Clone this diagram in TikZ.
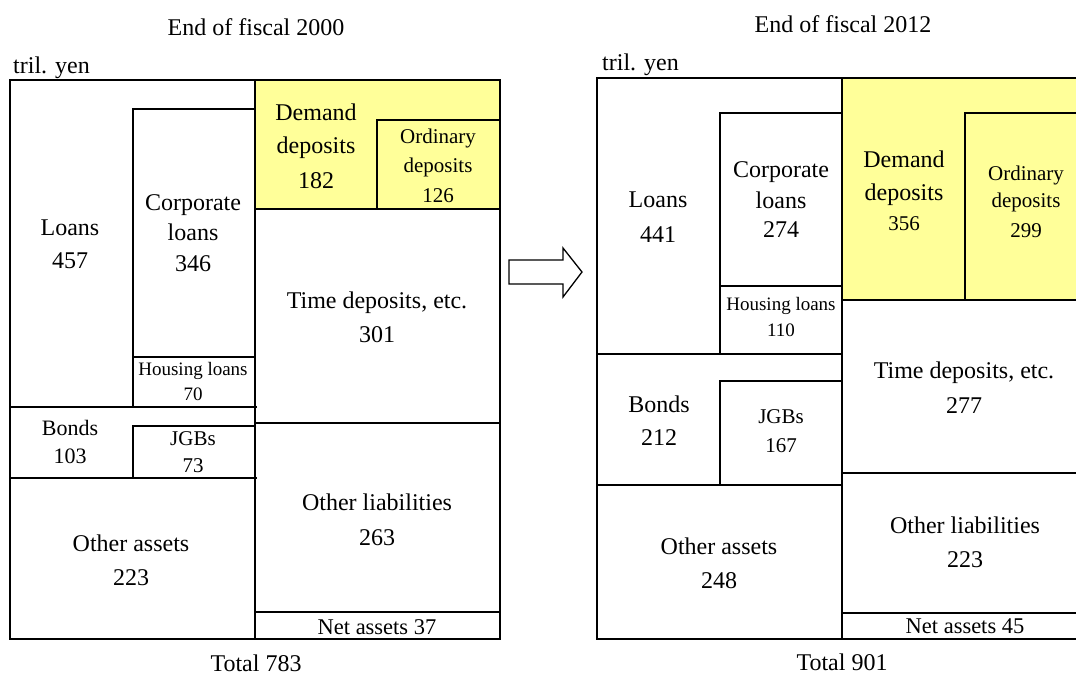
\documentclass[tikz,border=0pt]{standalone}
\usepackage{fontspec}
\setmainfont{Liberation Serif}
\definecolor{depyellow}{RGB}{255,255,153}
\begin{document}
\begin{tikzpicture}[x=1pt,y=-1pt,
  boxline/.style={line width=1.8pt, line cap=rect},
  ybox/.style={fill=depyellow, draw=none},
  lbig/.style={anchor=base, inner sep=0pt, font=\fontsize{24}{28}\selectfont},
  lbond/.style={anchor=base, inner sep=0pt, font=\fontsize{22}{26}\selectfont},
  lnet/.style={anchor=base, inner sep=0pt, font=\fontsize{22.5}{26}\selectfont},
  lmid/.style={anchor=base, inner sep=0pt, font=\fontsize{21}{25}\selectfont},
  lsmall/.style={anchor=base, inner sep=0pt, font=\fontsize{19}{23}\selectfont},
  arrowshape/.style={line width=1.3pt, line join=miter, fill=white}
]
\useasboundingbox (0,0) rectangle (1076,675);
\fill[white] (0,0) rectangle (1076,675);

% ---------------- Left chart (fiscal 2000) ----------------
\fill[depyellow] (255,80) rectangle (500,209);
\draw[boxline] (10,80) rectangle (500,639);
\draw[boxline] (255,80) -- (255,639);
% assets
\draw[boxline] (133,109) -- (255,109);
\draw[boxline] (133,109) -- (133,407);
\draw[boxline] (133,357) -- (255,357);
\draw[boxline] (10,407) -- (256,407);
\draw[boxline] (133,426) -- (255,426);
\draw[boxline] (133,426) -- (133,478);
\draw[boxline] (10,478) -- (256,478);
% liabilities
\draw[boxline] (377,120) -- (500,120);
\draw[boxline] (377,120) -- (377,209);
\draw[boxline] (255,209) -- (500,209);
\draw[boxline] (255,423) -- (500,423);
\draw[boxline] (255,612) -- (500,612);

% ---------------- Right chart (fiscal 2012) ----------------
\fill[depyellow] (842,78) rectangle (1080,300);
\draw[boxline] (1080,78) -- (597,78) -- (597,639) -- (1080,639);
\draw[boxline] (842,78) -- (842,639);
% assets
\draw[boxline] (720,113) -- (842,113);
\draw[boxline] (720,113) -- (720,354);
\draw[boxline] (720,286) -- (842,286);
\draw[boxline] (597,354) -- (842,354);
\draw[boxline] (720,381) -- (842,381);
\draw[boxline] (720,381) -- (720,485);
\draw[boxline] (597,485) -- (842,485);
% liabilities
\draw[boxline] (965,113) -- (1080,113);
\draw[boxline] (965,113) -- (965,300);
\draw[boxline] (842,300) -- (1080,300);
\draw[boxline] (842,473) -- (1080,473);
\draw[boxline] (842,613) -- (1080,613);

% ---------------- Arrow ----------------
\draw[arrowshape] (509,260) -- (563,260) -- (563,248) -- (582,272) -- (563,297) -- (563,284) -- (509,284) -- cycle;

% ---------------- Texts: left ----------------
\node[lbig] (titleA) at (256,35) {End of fiscal 2000};
\node[lbig, anchor=base west] (unitA) at (13,73) {tril. yen};
\node[lbig] (totalA) at (256,671) {Total 783};

\node[lbig] (loansA1) at (70,235) {Loans};
\node[lbig] (loansA2) at (70,268) {457};
\node[lbig] (corpA1) at (193,210) {Corporate};
\node[lbig] (corpA2) at (193,240) {loans};
\node[lbig] (corpA3) at (193,271) {346};
\node[lsmall] (housA1) at (193,375) {Housing loans};
\node[lsmall] (housA2) at (193,400) {70};
\node[lbond] (bondA1) at (70,435) {Bonds};
\node[lbond] (bondA2) at (70,463) {103};
\node[lmid] (jgbA1) at (193,445) {JGBs};
\node[lmid] (jgbA2) at (193,472) {73};
\node[lbig] (othaA1) at (131,551) {Other assets};
\node[lbig] (othaA2) at (131,585) {223};

\node[lbig] (demA1) at (316,120) {Demand};
\node[lbig] (demA2) at (316,153) {deposits};
\node[lbig] (demA3) at (316,188) {182};
\node[lmid] (ordA1) at (438,143) {Ordinary};
\node[lmid] (ordA2) at (438,172) {deposits};
\node[lmid] (ordA3) at (438,202) {126};
\node[lbig] (timeA1) at (377,308) {Time deposits, etc.};
\node[lbig] (timeA2) at (377,342) {301};
\node[lbig] (othlA1) at (377,510) {Other liabilities};
\node[lbig] (othlA2) at (377,545) {263};
\node[lnet] (netA) at (377,634) {Net assets 37};

% ---------------- Texts: right ----------------
\node[lbig] (titleB) at (843,32) {End of fiscal 2012};
\node[lbig, anchor=base west] (unitB) at (602,70) {tril. yen};
\node[lbig] (totalB) at (842,670) {Total 901};

\node[lbig] (loansB1) at (658,207) {Loans};
\node[lbig] (loansB2) at (658,242) {441};
\node[lbig] (corpB1) at (781,177) {Corporate};
\node[lbig] (corpB2) at (781,208) {loans};
\node[lbig] (corpB3) at (781,237) {274};
\node[lsmall] (housB1) at (781,310) {Housing loans};
\node[lsmall] (housB2) at (781,336) {110};
\node[lbig] (bondB1) at (659,412) {Bonds};
\node[lbig] (bondB2) at (659,445) {212};
\node[lmid] (jgbB1) at (781,423) {JGBs};
\node[lmid] (jgbB2) at (781,452) {167};
\node[lbig] (othaB1) at (719,554) {Other assets};
\node[lbig] (othaB2) at (719,588) {248};

\node[lbig] (demB1) at (904,167) {Demand};
\node[lbig] (demB2) at (904,200) {deposits};
\node[lmid] (demB3) at (904,230) {356};
\node[lmid] (ordB1) at (1026,180) {Ordinary};
\node[lmid] (ordB2) at (1026,207) {deposits};
\node[lmid] (ordB3) at (1026,237) {299};
\node[lbig] (timeB1) at (964,378) {Time deposits, etc.};
\node[lbig] (timeB2) at (964,413) {277};
\node[lbig] (othlB1) at (965,533) {Other liabilities};
\node[lbig] (othlB2) at (965,567) {223};
\node[lnet] (netB) at (965,633) {Net assets 45};
\end{tikzpicture}
\end{document}
